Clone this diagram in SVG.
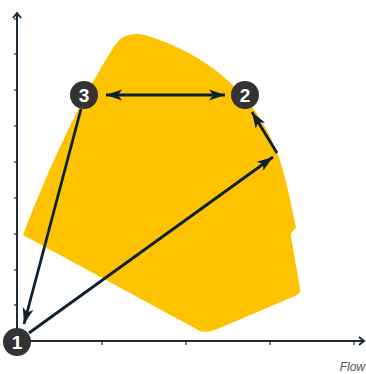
<svg xmlns="http://www.w3.org/2000/svg" width="366" height="374" viewBox="0 0 366 374">
<style>
.axis{stroke:#1e2b38;stroke-width:2;fill:none}
.tick{stroke:#1e2b38;stroke-width:1.2}
.conn{stroke:#0e2030;stroke-width:2.8;fill:none}
.nc{fill:#333333}
.nt{fill:#ffffff;font-family:"Liberation Sans",Arial,sans-serif;font-weight:bold;font-size:19px;text-anchor:middle}
.lbl{fill:#555555;font-family:"Liberation Sans",Arial,sans-serif;font-style:italic;font-size:12px;text-anchor:end}
</style>
<defs>
<marker id="ah" markerUnits="userSpaceOnUse" markerWidth="17" markerHeight="12" refX="16" refY="5.5" orient="auto-start-reverse" viewBox="0 0 17 11">
<path d="M0,0 L16,5.5 L0,11 L4,5.5 Z" fill="#0e2030"/>
</marker>
</defs>
<path id="area" d="M23 235 C50 165 80 100 115 45 Q125 31 145 35 C210 55 270 100 288 190 L296 228 Q290 232 291 237 L300 288 Q301 294 295 296 L215 330 Q208 333 200 331 Z" fill="#FDC300"/>
<g id="axes">
<path class="axis" d="M17 342 L17 13"/>
<path class="axis" d="M13 18 L17 13 L21 18"/>
<path class="axis" d="M17 341 L364 341"/>
<path class="axis" d="M359 337 L364 341 L359 345"/>
<g class="tick">
<line x1="14" y1="19" x2="17" y2="19"/>
<line x1="14" y1="54" x2="17" y2="54"/>
<line x1="14" y1="90" x2="17" y2="90"/>
<line x1="14" y1="126" x2="17" y2="126"/>
<line x1="14" y1="162" x2="17" y2="162"/>
<line x1="14" y1="198" x2="17" y2="198"/>
<line x1="14" y1="234" x2="17" y2="234"/>
<line x1="14" y1="270" x2="17" y2="270"/>
<line x1="14" y1="305" x2="17" y2="305"/>
<line x1="102" y1="341" x2="102" y2="345"/>
<line x1="186" y1="341" x2="186" y2="345"/>
<line x1="270" y1="341" x2="270" y2="345"/>
<line x1="354" y1="341" x2="354" y2="345"/>
</g>
<text class="lbl" x="365" y="371">Flow</text>
</g>
<g id="connectors">
<line class="conn" x1="106" y1="95" x2="225" y2="95" marker-start="url(#ah)" marker-end="url(#ah)"/>
<line class="conn" x1="81" y1="109" x2="24" y2="324" marker-end="url(#ah)"/>
<line class="conn" x1="29" y1="333" x2="273" y2="157" marker-end="url(#ah)"/>
<line class="conn" x1="277" y1="153" x2="252" y2="112" marker-end="url(#ah)"/>
</g>
<g id="node1"><circle class="nc" cx="17" cy="342" r="14"/><text class="nt" x="17" y="349">1</text></g>
<g id="node2"><circle class="nc" cx="245" cy="95" r="14"/><text class="nt" x="245" y="102">2</text></g>
<g id="node3"><circle class="nc" cx="84" cy="95" r="14"/><text class="nt" x="84" y="102">3</text></g>
</svg>
